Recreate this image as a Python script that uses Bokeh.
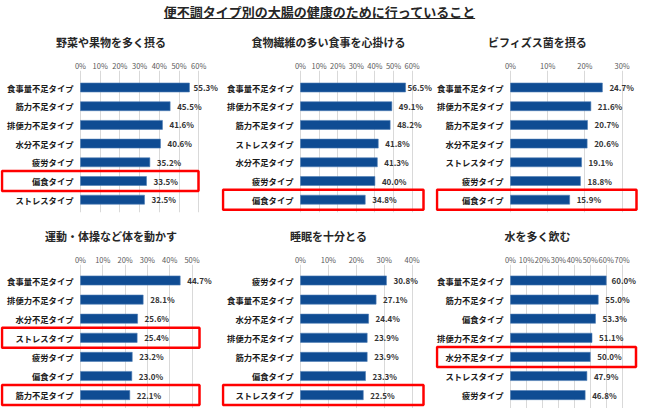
from bokeh.plotting import figure
from bokeh.layouts import column, row
from bokeh.models import Div, Range1d, FixedTicker, PrintfTickFormatter
from bokeh.core.properties import value
from bokeh.embed import file_html
from bokeh.resources import INLINE

FONT = "Noto Sans CJK JP"

main_title = "便不調タイプ別の大腸の健康のために行っていること"

title_1 = "野菜や果物を多く摂る"
cats_1 = ["食事量不足タイプ", "筋力不足タイプ", "排便力不足タイプ", "水分不足タイプ", "疲労タイプ", "偏食タイプ", "ストレスタイプ"]
vals_1 = [55.3, 45.5, 41.6, 40.6, 35.2, 33.5, 32.5]
ticks_1 = [0, 10, 20, 30, 40, 50, 60]
highlight_1 = ["偏食タイプ"]

title_2 = "食物繊維の多い食事を心掛ける"
cats_2 = ["食事量不足タイプ", "排便力不足タイプ", "筋力不足タイプ", "ストレスタイプ", "水分不足タイプ", "疲労タイプ", "偏食タイプ"]
vals_2 = [56.5, 49.1, 48.2, 41.8, 41.3, 40.0, 34.8]
ticks_2 = [0, 10, 20, 30, 40, 50, 60]
highlight_2 = ["偏食タイプ"]

title_3 = "ビフィズス菌を摂る"
cats_3 = ["食事量不足タイプ", "排便力不足タイプ", "筋力不足タイプ", "水分不足タイプ", "ストレスタイプ", "疲労タイプ", "偏食タイプ"]
vals_3 = [24.7, 21.6, 20.7, 20.6, 19.1, 18.8, 15.9]
ticks_3 = [0, 10, 20, 30]
highlight_3 = ["偏食タイプ"]

title_4 = "運動・体操など体を動かす"
cats_4 = ["食事量不足タイプ", "排便力不足タイプ", "水分不足タイプ", "ストレスタイプ", "疲労タイプ", "偏食タイプ", "筋力不足タイプ"]
vals_4 = [44.7, 28.1, 25.6, 25.4, 23.2, 23.0, 22.1]
ticks_4 = [0, 10, 20, 30, 40, 50]
highlight_4 = ["ストレスタイプ", "筋力不足タイプ"]

title_5 = "睡眠を十分とる"
cats_5 = ["疲労タイプ", "食事量不足タイプ", "水分不足タイプ", "排便力不足タイプ", "筋力不足タイプ", "偏食タイプ", "ストレスタイプ"]
vals_5 = [30.8, 27.1, 24.4, 23.9, 23.9, 23.3, 22.5]
ticks_5 = [0, 10, 20, 30, 40]
highlight_5 = ["ストレスタイプ"]

title_6 = "水を多く飲む"
cats_6 = ["食事量不足タイプ", "筋力不足タイプ", "偏食タイプ", "排便力不足タイプ", "水分不足タイプ", "ストレスタイプ", "疲労タイプ"]
vals_6 = [60.0, 55.0, 53.3, 51.1, 50.0, 47.9, 46.8]
ticks_6 = [0, 10, 20, 30, 40, 50, 60, 70]
highlight_6 = ["水分不足タイプ"]

BAR = "#0f4c93"
TOP_ROW = dict(H=195, ft=48, fb=190, first=65, step=18.7)
BOT_ROW = dict(H=191, ft=47, fb=191, first=63, step=19.1)


def make_panel(title, cats, vals, ticks, highlight, W, zero, s10, box_right, rc):
    s = s10 / 10.0
    H, ft, fb, first, step = rc["H"], rc["ft"], rc["fb"], rc["first"], rc["step"]
    p = figure(width=W, height=H,
               x_range=Range1d(-zero / s, (W - zero) / s),
               y_range=Range1d((fb - first) / step, -(first - ft) / step),
               x_axis_location="above", output_backend="svg", toolbar_location=None,
               min_border_left=0, min_border_right=0, min_border_top=ft,
               min_border_bottom=H - fb, title=title)
    p.title.align = "center"
    p.title.text_font = FONT
    p.title.text_font_size = "11px"
    p.title.text_font_style = "bold"
    p.title.text_color = "#262626"
    p.title.standoff = 14
    p.outline_line_color = None
    p.yaxis.visible = False
    p.ygrid.visible = False
    ax = p.xaxis[0]
    ax.ticker = FixedTicker(ticks=ticks)
    ax.formatter = PrintfTickFormatter(format="%d%%")
    ax.axis_line_color = None
    ax.major_tick_line_color = None
    ax.minor_tick_line_color = None
    ax.major_tick_out = 0
    ax.major_tick_in = 0
    ax.minor_tick_out = 0
    ax.minor_tick_in = 0
    ax.major_label_text_font = FONT
    ax.major_label_text_font_size = "7.5px"
    ax.major_label_text_color = "#595959"
    ax.major_label_standoff = 0
    p.xgrid.ticker = FixedTicker(ticks=ticks)
    p.xgrid.grid_line_color = "#d9d9d9"

    idx = list(range(len(cats)))
    p.hbar(y=idx, left=0, right=vals, height=0.48, fill_color=BAR,
           line_color="#4f7db5", line_width=0.6)
    p.text(x=0, y=idx, text=cats, x_offset=-7, text_align="right",
           text_baseline="middle", text_font=value(FONT), text_font_style="bold",
           text_font_size="8.3px", text_color="#1a1a1a")
    limit = (W - 28 - zero) / s
    lab_x = [min(v + 7 / s, limit) for v in vals]
    labels = ["%.1f%%" % v for v in vals]
    p.text(x=lab_x, y=idx, text=labels, text_align="left", text_baseline="middle",
           text_font=value(FONT), text_font_style="bold", text_font_size="8px",
           text_color="#333333")
    half = 10 / step
    for h in highlight:
        i = cats.index(h)
        p.quad(left=[-zero / s + 1.5 / s], right=[(box_right - zero) / s],
               bottom=[i + half], top=[i - half], fill_color=None,
               line_color="#ff0000", line_width=2.5)
    return p


p1 = make_panel(title_1, cats_1, vals_1, ticks_1, highlight_1, 221, 80, 19.7, 198, TOP_ROW)
p2 = make_panel(title_2, cats_2, vals_2, ticks_2, highlight_2, 214, 79, 18.6, 202, TOP_ROW)
p3 = make_panel(title_3, cats_3, vals_3, ticks_3, highlight_3, 204, 75, 37.2, 201, TOP_ROW)
p4 = make_panel(title_4, cats_4, vals_4, ticks_4, highlight_4, 221, 80, 22.3, 199, BOT_ROW)
p5 = make_panel(title_5, cats_5, vals_5, ticks_5, highlight_5, 214, 79, 27.9, 202, BOT_ROW)
p6 = make_panel(title_6, cats_6, vals_6, ticks_6, highlight_6, 204, 75, 15.95, 200.5, BOT_ROW)

head = Div(text=('<div style="width:639px;text-align:center;font-family:\'Noto Sans CJK JP\';'
                 'font-weight:bold;font-size:13px;color:#262626;text-decoration:underline;'
                 'line-height:18px;padding-top:3px;">' + main_title + '</div>'),
           width=639, height=22, margin=(0, 0, 0, 0))

layout = column(head, row(p1, p2, p3, spacing=0), row(p4, p5, p6, spacing=0), spacing=0)

open("out.html", "w").write(file_html(layout, INLINE, title="chart"))
